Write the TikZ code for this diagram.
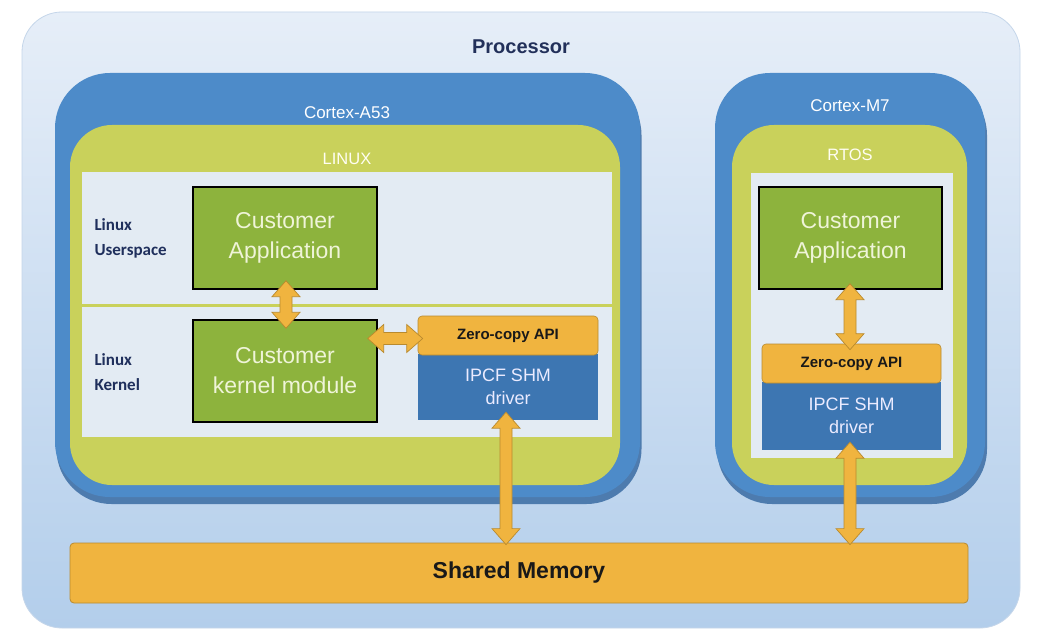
\documentclass[tikz,border=0pt]{standalone}
\usepackage{fontspec}
\setmainfont{Liberation Sans}
\newfontfamily\nsans{Liberation Sans}
\newfontfamily\calfont{Carlito}
\usetikzlibrary{calc}
\definecolor{procTop}{HTML}{E6EEF8}
\definecolor{procBot}{HTML}{B3CEEB}
\definecolor{procLine}{HTML}{C5D6EA}
\definecolor{coreBlue}{HTML}{4D8BC9}
\definecolor{coreShadow}{HTML}{3A6CA3}
\definecolor{osGreen}{HTML}{C9D15B}
\definecolor{panel}{HTML}{E3EBF3}
\definecolor{appGreen}{HTML}{8DB33D}
\definecolor{apiOrange}{HTML}{F0B43F}
\definecolor{apiLine}{HTML}{B98A2E}
\definecolor{drvBlue}{HTML}{3D76B2}
\definecolor{navy}{HTML}{22305A}
\definecolor{labelNavy}{HTML}{1F2F5C}
\definecolor{appText}{HTML}{EFF4D8}
\tikzset{
  procbox/.style={rounded corners=40, top color=procTop, bottom color=procBot, draw=procLine, line width=0.8},
  corebox/.style={rounded corners=55, fill=coreBlue},
  coreshadow/.style={rounded corners=55, fill=coreShadow, opacity=0.85},
  osbox/.style={rounded corners=42, fill=osGreen},
  panelbox/.style={fill=panel},
  appbox/.style={fill=appGreen, draw=black, line width=1.4, text=appText, align=center, font=\nsans\fontsize{23}{30}\selectfont},
  apibox/.style={fill=apiOrange, draw=apiLine, line width=0.6, rounded corners=4, font=\nsans\bfseries\fontsize{15}{17}\selectfont, text=black!90},
  drvbox/.style={fill=drvBlue, text=white!92!blue, align=center, font=\nsans\fontsize{18}{22}\selectfont},
  shmbox/.style={fill=apiOrange, draw=apiLine, line width=0.8, rounded corners=4, font=\nsans\bfseries\fontsize{23}{26}\selectfont, text=black!90},
  corelabel/.style={text=white, font=\nsans\fontsize{17}{19}\selectfont},
  oslabel/.style={text=white!95!yellow, font=\nsans\fontsize{16.5}{18}\selectfont},
  sidelabel/.style={text=labelNavy, align=left, font=\calfont\bfseries\fontsize{17}{25}\selectfont, anchor=west},
  barrow/.style={fill=apiOrange, draw=apiLine, line width=0.7, line join=miter},
}
\newcommand{\vblockarrow}[2]{%
  \draw[barrow] (#1) -- ++(14,16) -- ++(-8,0) -- ($(#2)+(6,-16)$) -- ++(8,0) -- (#2)
    -- ++(-14,-16) -- ++(8,0) -- ($(#1)+(-6,16)$) -- ++(-8,0) -- cycle;}
\newcommand{\hblockarrow}[2]{%
  \draw[barrow] (#1) -- ++(16,-14) -- ++(0,8) -- ($(#2)+(-16,-6)$) -- ++(0,-8) -- (#2)
    -- ++(-16,14) -- ++(0,-8) -- ($(#1)+(16,6)$) -- ++(0,8) -- cycle;}
\begin{document}
\begin{tikzpicture}[x=1pt,y=-1pt]
\useasboundingbox[fill=white] (0,0) rectangle (1054,644);
% processor
\node[procbox, minimum width=998, minimum height=616] (proc) at (521,320) {};
\node[text=navy, font=\nsans\bfseries\fontsize{20}{22}\selectfont] (proclabel) at (521,47) {Processor};
% Cortex-A53
\node[coreshadow, minimum width=585, minimum height=424] (a53s) at (349,292) {};
\node[corebox, minimum width=585, minimum height=424] (a53) at (347.5,285) {};
\node[corelabel] (a53label) at (347,113) {Cortex-A53};
\node[osbox, minimum width=550, minimum height=360] (linux) at (345,305) {};
\node[oslabel] (linuxlabel) at (347,159) {LINUX};
\node[panelbox, minimum width=530, minimum height=265] (panel1) at (347,304.5) {};
\draw[osGreen, line width=3] (panel1.west |- 0,305) coordinate (divl) -- (panel1.east |- 0,305) coordinate (divr);
\node[sidelabel] (uslabel) at (91,238) {Linux\\Userspace};
\node[sidelabel] (kllabel) at (91,372) {Linux\\Kernel};
\node[appbox, minimum width=184, minimum height=102] (app1) at (285,238) {Customer\\Application};
\node[appbox, minimum width=184, minimum height=102] (kmod) at (285,371) {Customer\\kernel module};
\node[drvbox, minimum width=180, minimum height=66, text depth=0pt] (drv1) at (508,387) {\raisebox{4pt}{IPCF SHM}\\[-3pt]driver};
\node[apibox, minimum width=180, minimum height=39] (zc1) at (508,335.5) {Zero-copy API};
% Cortex-M7
\node[coreshadow, minimum width=270, minimum height=424] (m7s) at (852,292) {};
\node[corebox, minimum width=270, minimum height=424] (m7) at (850,285) {};
\node[corelabel] (m7label) at (850,106) {Cortex-M7};
\node[osbox, minimum width=235, minimum height=360] (rtos) at (849.5,305) {};
\node[oslabel] (rtoslabel) at (850,155) {RTOS};
\node[panelbox, minimum width=202, minimum height=285] (panel2) at (852,315.5) {};
\node[appbox, minimum width=183, minimum height=102] (app2) at (850.5,238) {Customer\\Application};
\node[drvbox, minimum width=179, minimum height=68, text depth=0pt] (drv2) at (851.5,416) {\raisebox{4pt}{IPCF SHM}\\[-3pt]driver};
\node[apibox, minimum width=179, minimum height=39] (zc2) at (851.5,363.5) {Zero-copy API};
% shared memory
\node[shmbox, minimum width=898, minimum height=60] (shm) at (519,573) {Shared Memory};
% arrows
\coordinate (v1a) at ($(app1.south)+(1,-9)$);
\coordinate (v1b) at ($(kmod.north)+(1,9)$);
\vblockarrow{v1a}{v1b}
\coordinate (h1a) at ($(kmod.east |- zc1.west)+(-10,3)$);
\coordinate (h1b) at ($(zc1.west)+(5,3)$);
\hblockarrow{h1a}{h1b}
\coordinate (v2a) at ($(drv1.south)+(-2,-8)$);
\coordinate (v2b) at ($(drv1.south |- shm.north)+(-2,2)$);
\vblockarrow{v2a}{v2b}
\coordinate (v3a) at ($(app2.south)+(-0.5,-6)$);
\coordinate (v3b) at ($(zc2.north)+(-1.5,6)$);
\vblockarrow{v3a}{v3b}
\coordinate (v4a) at ($(drv2.south)+(-1.5,-8)$);
\coordinate (v4b) at ($(drv2.south |- shm.north)+(-1.5,2)$);
\vblockarrow{v4a}{v4b}
\end{tikzpicture}
\end{document}
